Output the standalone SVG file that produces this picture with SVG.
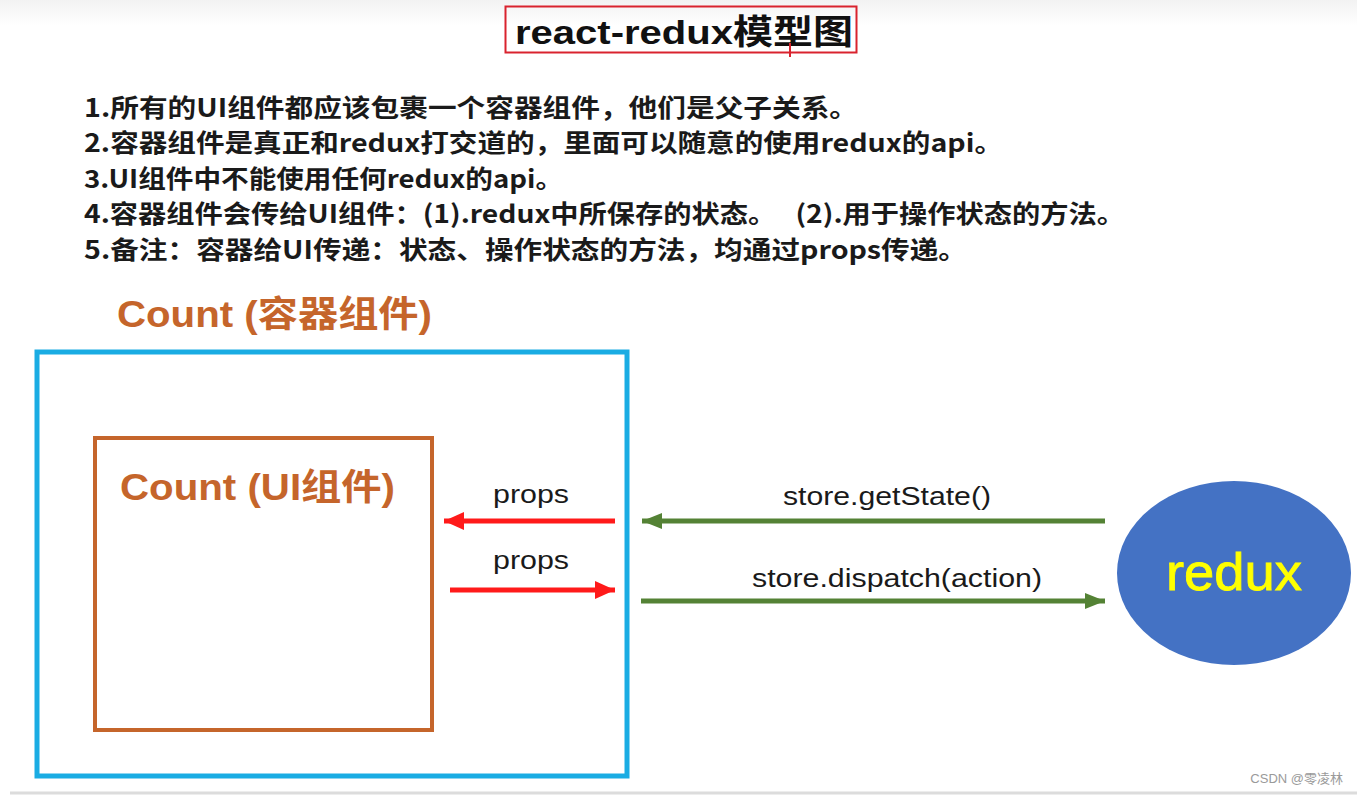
<svg xmlns="http://www.w3.org/2000/svg" width="1357" height="795" viewBox="0 0 1357 795">
<defs>
<linearGradient id="topg" x1="0" y1="0" x2="0" y2="1"><stop offset="0" stop-color="#f2f2f2"/><stop offset="1" stop-color="#ffffff"/></linearGradient>
<marker id="ah-red" markerUnits="userSpaceOnUse" markerWidth="22" markerHeight="20" refX="20" refY="10" orient="auto"><path d="M0,1 L20,10 L0,19 Z" fill="#ff1a1a"/></marker>
<marker id="ah-green" markerUnits="userSpaceOnUse" markerWidth="22" markerHeight="20" refX="20" refY="10" orient="auto"><path d="M0,2 L20,10 L0,18 Z" fill="#548235"/></marker>
</defs>
<style>
.note{font-family:"Noto Sans CJK SC","Liberation Sans",sans-serif;font-weight:bold;font-size:25px;fill:#1a1a1a}
.orange{font-family:"Liberation Sans","Noto Sans CJK SC",sans-serif;font-weight:bold;font-size:36px;fill:#c5652b}
.lbl{font-family:"Liberation Sans",sans-serif;font-size:26px;fill:#1a1a1a}
.red{stroke:#ff1a1a;stroke-width:5;fill:none}
.green{stroke:#548235;stroke-width:5;fill:none}
</style>
<rect x="0" y="0" width="1357" height="795" fill="#ffffff"/>
<rect x="0" y="0" width="1357" height="26" fill="url(#topg)"/>
<g id="title">
<rect x="505.5" y="6.5" width="351" height="46" fill="none" stroke="#d9232e" stroke-width="2"/>
<text x="515" y="44" font-family="Liberation Sans,Noto Sans CJK SC,sans-serif" font-weight="bold" font-size="34" fill="#111" textLength="338" lengthAdjust="spacingAndGlyphs">react-redux<tspan font-family="Noto Sans CJK SC,sans-serif">模型图</tspan></text>
<line x1="790" y1="43" x2="790" y2="57" stroke="#d9232e" stroke-width="2"/>
</g>
<g id="notes">
<text class="note" x="84" y="117" textLength="774" lengthAdjust="spacingAndGlyphs">1.所有的UI组件都应该包裹一个容器组件，他们是父子关系。</text>
<text class="note" x="84" y="152" textLength="919" lengthAdjust="spacingAndGlyphs">2.容器组件是真正和redux打交道的，里面可以随意的使用redux的api。</text>
<text class="note" x="84" y="188" textLength="479" lengthAdjust="spacingAndGlyphs">3.UI组件中不能使用任何redux的api。</text>
<text class="note" x="84" y="223" xml:space="preserve" textLength="1041" lengthAdjust="spacingAndGlyphs">4.容器组件会传给UI组件：(1).redux中所保存的状态。   (2).用于操作状态的方法。</text>
<text class="note" x="84" y="259" textLength="883" lengthAdjust="spacingAndGlyphs">5.备注：容器给UI传递：状态、操作状态的方法，均通过props传递。</text>
</g>
<g id="container">
<text class="orange" x="117" y="327" textLength="315" lengthAdjust="spacingAndGlyphs">Count (<tspan font-family="Noto Sans CJK SC,sans-serif">容器组件</tspan>)</text>
<rect x="37" y="352" width="590" height="424" fill="none" stroke="#1aace3" stroke-width="5"/>
</g>
<g id="ui">
<rect x="95" y="438" width="337" height="292" fill="none" stroke="#c5652b" stroke-width="4"/>
<text class="orange" x="120" y="500" textLength="275" lengthAdjust="spacingAndGlyphs">Count (UI<tspan font-family="Noto Sans CJK SC,sans-serif">组件</tspan>)</text>
</g>
<g id="redux">
<ellipse cx="1234" cy="573" rx="117" ry="92" fill="#4472c4"/>
<text x="1234" y="590" text-anchor="middle" font-family="Liberation Sans,sans-serif" font-size="52" fill="#ffff00" stroke="#ffff00" stroke-width="0.8" textLength="136" lengthAdjust="spacingAndGlyphs">redux</text>
</g>
<g id="connectors">
<line class="red" x1="615" y1="521" x2="444" y2="521" marker-end="url(#ah-red)"/>
<line class="red" x1="450" y1="590" x2="615" y2="590" marker-end="url(#ah-red)"/>
<line class="green" x1="1105" y1="521" x2="642" y2="521" marker-end="url(#ah-green)"/>
<line class="green" x1="641" y1="601" x2="1105" y2="601" marker-end="url(#ah-green)"/>
<text class="lbl" x="531" y="503" text-anchor="middle" textLength="76" lengthAdjust="spacingAndGlyphs">props</text>
<text class="lbl" x="531" y="569" text-anchor="middle" textLength="76" lengthAdjust="spacingAndGlyphs">props</text>
<text class="lbl" x="887" y="505" text-anchor="middle" textLength="208" lengthAdjust="spacingAndGlyphs">store.getState()</text>
<text class="lbl" x="897" y="587" text-anchor="middle" textLength="290" lengthAdjust="spacingAndGlyphs">store.dispatch(action)</text>
</g>
<text x="1343" y="783" text-anchor="end" font-family="Liberation Sans,Noto Sans CJK SC,sans-serif" font-size="13" fill="#9a9a9a">CSDN @零凌林</text>
<line x1="10" y1="793" x2="1357" y2="793" stroke="#dcdcdc" stroke-width="3"/>
</svg>
